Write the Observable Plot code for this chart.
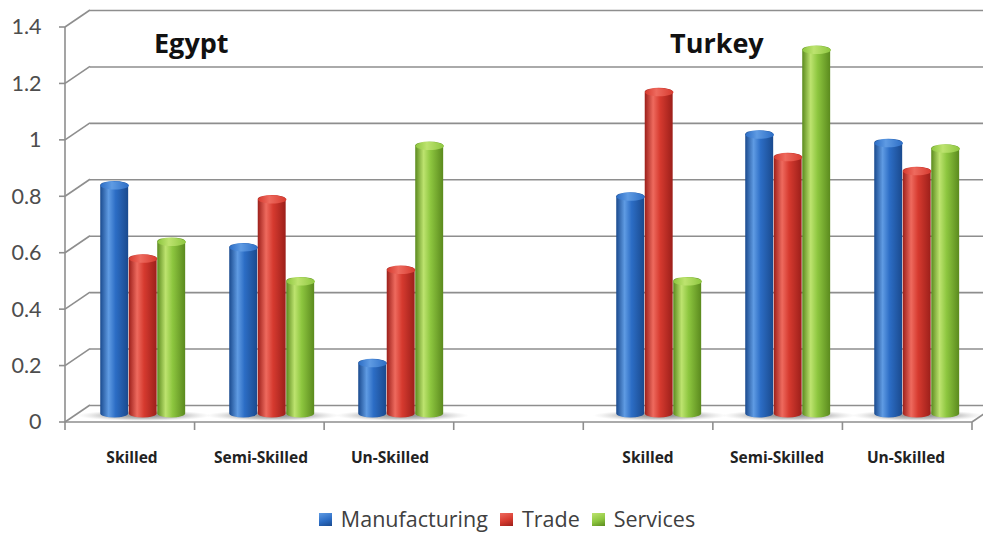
<!DOCTYPE html>
<html><head><meta charset="utf-8">
<script src="https://cdn.jsdelivr.net/npm/d3@7"></script>
<script src="https://cdn.jsdelivr.net/npm/@observablehq/plot@0.6"></script>
<style>
html,body{margin:0;padding:0;background:#fff;}
#chart{width:983px;height:541px;font-family:Lato,"Open Sans",sans-serif;}
#chart svg{display:block;}
.legend{display:flex;justify-content:center;align-items:center;font-family:"Open Sans",sans-serif;font-size:21.5px;color:#404040;margin-top:16px;padding-left:31px;line-height:26px;}
.legend .item{display:flex;align-items:center;margin:0 6px;}
.legend .sw{width:13px;height:13px;margin-right:9px;}
</style></head><body><div id="chart"></div><script>
const countries = ["Egypt", "Turkey"];
const skillLevels = ["Skilled", "Semi-Skilled", "Un-Skilled"];
const seriesNames = ["Manufacturing", "Trade", "Services"];
// values in order Egypt (Skilled, Semi, Un), Turkey (Skilled, Semi, Un)
const manufacturing = [0.81, 0.59, 0.18, 0.77, 0.99, 0.96];
const trade = [0.55, 0.76, 0.51, 1.14, 0.91, 0.86];
const services = [0.61, 0.47, 0.95, 0.47, 1.29, 0.94];
const yTicks = [0, 0.2, 0.4, 0.6, 0.8, 1, 1.2, 1.4];
const seriesColors = [
  {dark: "#1a4a8e", light: "#5f9be3", mid: "#2c6dc5", cap: "#4b8ad8"},
  {dark: "#9c1f1a", light: "#ee6a5e", mid: "#d63a2f", cap: "#e0554a"},
  {dark: "#5b8a1e", light: "#bde36f", mid: "#8dc63f", cap: "#a6d658"}
];

const W = 983, H = 490, ML = 65, MR = 11, MT = 27, MB = 68;
const seriesValues = [manufacturing, trade, services];
const keys = [];
countries.forEach((c, ci) => {
  skillLevels.forEach(s => keys.push(c + "|" + s));
  if (ci === 0) keys.push("gap");
});
const rows = [];
countries.forEach((c, ci) => skillLevels.forEach((s, si) => {
  seriesNames.forEach((n, k) => rows.push({key: c + "|" + s, skill: s, series: n, k, value: seriesValues[k][ci * 3 + si]}));
}));
const labelRows = keys.filter(k => k !== "gap").map(k => ({key: k, skill: k.split("|")[1]}));

const slotW = (W - ML - MR) / keys.length;
const barW = 28.5;
const inset = (slotW - barW) / 2;
const depthDx = 25, depthDy = -17;
const midDy = depthDy / 2;

function ellipse(w, h) {
  return {draw(ctx) {
    const rx = w / 2, ry = h / 2, k = 0.5523;
    ctx.moveTo(-rx, 0);
    ctx.bezierCurveTo(-rx, -ry * k, -rx * k, -ry, 0, -ry);
    ctx.bezierCurveTo(rx * k, -ry, rx, -ry * k, rx, 0);
    ctx.bezierCurveTo(rx, ry * k, rx * k, ry, 0, ry);
    ctx.bezierCurveTo(-rx * k, ry, -rx, ry * k, -rx, 0);
    ctx.closePath();
  }};
}

const marks = [
  Plot.ruleY(yTicks, {y: d => d, dx: depthDx, dy: depthDy, stroke: "#8e8e8e", strokeWidth: 1.6}),
  Plot.dot(keys.filter(k => k !== "gap"), {x: d => d, y: () => 0, dx: 12, dy: -7, symbol: ellipse(134, 11), fill: "url(#shadowGrad)"})
];
seriesNames.forEach((n, k) => {
  const data = rows.filter(r => r.k === k);
  const dx = 11.2 + (k - 1) * barW;
  marks.push(Plot.rectY(data, {x: "key", y1: () => 0, y2: "value", fill: `url(#bar${k})`,
    insetLeft: inset, insetRight: inset, insetTop: -4, insetBottom: -4, rx: 14, ry: 4, dx, dy: midDy}));
  marks.push(Plot.dot(data, {x: "key", y: "value", symbol: ellipse(barW, 8), fill: `url(#cap${k})`, dx, dy: midDy}));
});
marks.push(
  Plot.text(yTicks, {y: d => d, frameAnchor: "left", dx: -24, textAnchor: "end", text: d => String(d), fontSize: 21.5, fill: "#4d4d4d"}),
  Plot.text(labelRows, {x: "key", y: () => 0, dy: 36, text: "skill", fontSize: 15.5, fontWeight: "bold", fontFamily: "'Open Sans', sans-serif", fill: "#222"}),
  Plot.text(countries, {x: d => d + "|Skilled", y: () => 1.4, dx: 22, dy: 17, textAnchor: "start", text: d => d, fontSize: 27, fontWeight: "bold", fontFamily: "'Open Sans', sans-serif", fill: "#111"})
);

const chart = Plot.plot({
  width: W, height: H,
  marginLeft: ML, marginRight: MR, marginTop: MT, marginBottom: MB,
  style: {fontFamily: "Lato, 'Open Sans', sans-serif", background: "#fff"},
  x: {type: "band", domain: keys, padding: 0, axis: null},
  y: {domain: [0, 1.4], axis: null},
  marks
});

// defs: gradients
const svg = d3.select(chart);
const defs = svg.insert("defs", ":first-child");
seriesColors.forEach((c, k) => {
  const g = defs.append("linearGradient").attr("id", `bar${k}`).attr("x1", 0).attr("x2", 1).attr("y1", 0).attr("y2", 0);
  [[0, c.dark], [0.3, c.light], [0.55, c.mid], [1, c.dark]].forEach(([o, col]) => g.append("stop").attr("offset", o).attr("stop-color", col));
  const g2 = defs.append("linearGradient").attr("id", `cap${k}`).attr("x1", 0).attr("x2", 1).attr("y1", 0).attr("y2", 0);
  [[0, c.mid], [0.4, c.light], [1, c.mid]].forEach(([o, col]) => g2.append("stop").attr("offset", o).attr("stop-color", col));
});
const sg = defs.append("radialGradient").attr("id", "shadowGrad");
sg.append("stop").attr("offset", 0).attr("stop-color", "#707070").attr("stop-opacity", 0.9);
sg.append("stop").attr("offset", 0.6).attr("stop-color", "#9a9a9a").attr("stop-opacity", 0.55);
sg.append("stop").attr("offset", 1).attr("stop-color", "#cccccc").attr("stop-opacity", 0);

// 3D chrome drawn from the plot's own scales
const xs = chart.scale("x"), ysd = chart.scale("y");
const y = d3.scaleLinear(ysd.domain, ysd.range);
const x0 = xs.range[0], x1 = xs.range[1];
const chrome = svg.append("g").attr("stroke", "#8e8e8e").attr("stroke-width", 1.6).attr("fill", "none");
chrome.append("line").attr("x1", x0).attr("x2", x0).attr("y1", y(0)).attr("y2", y(1.4));
yTicks.forEach(v => {
  chrome.append("line").attr("x1", x0).attr("y1", y(v)).attr("x2", x0 + depthDx).attr("y2", y(v) + depthDy);
  chrome.append("line").attr("x1", x0 - 6).attr("y1", y(v)).attr("x2", x0).attr("y2", y(v));
});
chrome.append("line").attr("x1", x0).attr("x2", x1).attr("y1", y(0)).attr("y2", y(0));
chrome.append("line").attr("x1", x1).attr("y1", y(0)).attr("x2", x1 + depthDx).attr("y2", y(0) + depthDy);
const step = (x1 - x0) / keys.length;
for (let i = 0; i <= keys.length; i++) {
  chrome.append("line").attr("x1", x0 + i * step).attr("x2", x0 + i * step).attr("y1", y(0)).attr("y2", y(0) + 8);
}

const root = document.getElementById("chart");
root.appendChild(chart);
const legend = document.createElement("div");
legend.className = "legend";
seriesNames.forEach((n, k) => {
  const c = seriesColors[k];
  const item = document.createElement("div");
  item.className = "item";
  const sw = document.createElement("span");
  sw.className = "sw";
  sw.style.background = `linear-gradient(160deg, ${c.light}, ${c.mid} 55%, ${c.dark})`;
  const t = document.createElement("span");
  t.textContent = n;
  item.appendChild(sw); item.appendChild(t);
  legend.appendChild(item);
});
root.appendChild(legend);
</script></body></html>
